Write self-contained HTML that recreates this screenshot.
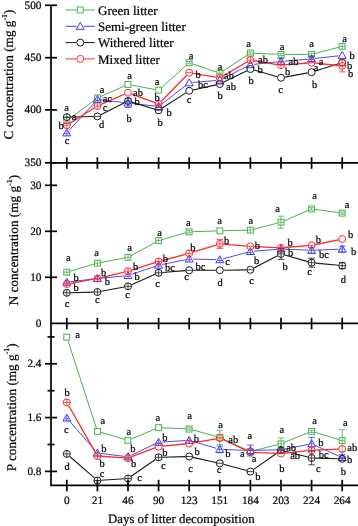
<!DOCTYPE html>
<html><head><meta charset="utf-8"><style>
html,body{margin:0;padding:0;background:#fff;width:358px;height:526px;overflow:hidden}
svg{display:block;will-change:transform}
text{font-family:"Liberation Serif",serif;fill:#000;stroke:#000;stroke-width:0.22px;text-rendering:geometricPrecision}
</style></head><body>
<svg width="358" height="526" viewBox="0 0 358 526">
<g stroke="#000" stroke-width="1.7" fill="none"><path d="M51.0 5.3V485.3M50.15 162.8H358M50.15 323.3H358M50.15 485.3H358"/><path d="M45 5.3H57"/><path d="M45 57.7H57"/><path d="M45 109.9H57"/><path d="M45 162.8H57"/><path d="M45 185.3H57"/><path d="M45 231.3H57"/><path d="M45 277.3H57"/><path d="M45 363.8H57"/><path d="M45 417.6H57"/><path d="M45 471.4H57"/><path d="M47.5 336.9H54.5"/><path d="M47.5 390.7H54.5"/><path d="M47.5 444.5H54.5"/><path d="M66.8 157.3V168.8"/><path d="M97.4 157.3V168.8"/><path d="M128.0 157.3V168.8"/><path d="M158.6 157.3V168.8"/><path d="M189.2 157.3V168.8"/><path d="M219.8 157.3V168.8"/><path d="M250.4 157.3V168.8"/><path d="M281.0 157.3V168.8"/><path d="M311.6 157.3V168.8"/><path d="M342.2 157.3V168.8"/><path d="M66.8 317.8V329.3"/><path d="M97.4 317.8V329.3"/><path d="M128.0 317.8V329.3"/><path d="M158.6 317.8V329.3"/><path d="M189.2 317.8V329.3"/><path d="M219.8 317.8V329.3"/><path d="M250.4 317.8V329.3"/><path d="M281.0 317.8V329.3"/><path d="M311.6 317.8V329.3"/><path d="M342.2 317.8V329.3"/><path d="M66.8 479.8V491.3"/><path d="M97.4 479.8V491.3"/><path d="M128.0 479.8V491.3"/><path d="M158.6 479.8V491.3"/><path d="M189.2 479.8V491.3"/><path d="M219.8 479.8V491.3"/><path d="M250.4 479.8V491.3"/><path d="M281.0 479.8V491.3"/><path d="M311.6 479.8V491.3"/><path d="M342.2 479.8V491.3"/></g>
<path d="M69.53 118.58L94.67 100.02M100.51 96.62L124.89 85.78M131.34 85.03L155.26 89.57M161.13 87.93L186.67 64.97M192.42 63.80L216.58 72.10M222.64 71.33L247.56 54.97M253.80 53.24L277.60 54.26M284.40 54.40L308.20 54.40M314.89 53.54L338.91 47.26" fill="none" stroke="#4caf50" stroke-width="1.0"/>
<path d="M69.23 130.24L94.97 102.06M100.98 99.82L124.42 102.58M131.58 103.41L155.02 106.09M161.45 104.30L186.35 85.00M192.79 82.50L216.21 80.50M223.01 78.57L247.19 66.33M253.98 64.31L277.42 61.79M284.59 61.11L308.01 59.19M315.18 58.49L338.62 55.81" fill="none" stroke="#3a3ad8" stroke-width="0.9"/>
<path d="M70.70 117.01L93.50 116.49M100.88 114.65L124.52 102.75M131.73 102.13L154.87 109.17M161.89 108.20L185.91 92.90M193.01 89.95L215.99 84.85M223.30 82.28L246.90 70.72M254.15 70.08L277.25 76.72M284.84 77.10L307.76 72.90M315.32 71.03L338.48 63.77" fill="none" stroke="#1a1a1a" stroke-width="1.1"/>
<path d="M70.10 123.13L94.10 108.07M100.98 104.45L124.42 94.25M131.66 94.05L154.94 102.65M161.33 101.21L186.47 75.49M193.05 73.33L215.95 77.07M223.18 75.76L247.02 62.04M254.25 60.74L277.15 64.56M284.89 64.88L307.71 63.02M315.48 63.11L338.32 65.49" fill="none" stroke="#ff2a2a" stroke-width="1.3"/>
<rect x="63.8" y="117.6" width="5.9" height="5.9" fill="none" stroke="#4caf50" stroke-width="1.0"/>
<rect x="94.5" y="95.0" width="5.9" height="5.9" fill="none" stroke="#4caf50" stroke-width="1.0"/>
<rect x="125.0" y="81.5" width="5.9" height="5.9" fill="none" stroke="#4caf50" stroke-width="1.0"/>
<rect x="155.7" y="87.2" width="5.9" height="5.9" fill="none" stroke="#4caf50" stroke-width="1.0"/>
<rect x="186.2" y="59.8" width="5.9" height="5.9" fill="none" stroke="#4caf50" stroke-width="1.0"/><path d="M186.2 61.6H192.1M186.2 63.8H192.1M189.2 61.6V63.8" stroke="#4caf50" stroke-width="0.8" fill="none"/>
<rect x="216.9" y="70.2" width="5.9" height="5.9" fill="none" stroke="#4caf50" stroke-width="1.0"/><path d="M219.8 70.2V76.2M216.9 73.2H222.8" stroke="#4caf50" stroke-width="0.8" fill="none"/>
<rect x="247.5" y="50.1" width="5.9" height="5.9" fill="none" stroke="#4caf50" stroke-width="1.0"/><path d="M247.5 52.0H253.3M247.5 54.2H253.3M250.4 52.0V54.2" stroke="#4caf50" stroke-width="0.8" fill="none"/>
<rect x="278.1" y="51.4" width="5.9" height="5.9" fill="none" stroke="#4caf50" stroke-width="1.0"/><path d="M278.1 53.3H283.9M278.1 55.5H283.9M281.0 53.3V55.5" stroke="#4caf50" stroke-width="0.8" fill="none"/>
<rect x="308.7" y="51.4" width="5.9" height="5.9" fill="none" stroke="#4caf50" stroke-width="1.0"/><path d="M308.7 53.3H314.6M308.7 55.5H314.6M311.6 53.3V55.5" stroke="#4caf50" stroke-width="0.8" fill="none"/>
<rect x="339.2" y="43.4" width="5.9" height="5.9" fill="none" stroke="#4caf50" stroke-width="1.0"/><path d="M342.2 43.4V49.4M339.2 46.4H345.1" stroke="#4caf50" stroke-width="0.8" fill="none"/>
<path d="M66.8 128.9L70.8 135.9L62.8 135.9Z" fill="none" stroke="#3b3bf5" stroke-width="1.0"/><path d="M66.8 130.4V135.9M64.6 133.7H69.0" stroke="#3b3bf5" stroke-width="0.8" fill="none"/>
<path d="M97.4 95.4L101.4 102.4L93.4 102.4Z" fill="none" stroke="#3b3bf5" stroke-width="1.0"/><path d="M97.4 96.9V102.4M95.2 100.2H99.6" stroke="#3b3bf5" stroke-width="0.8" fill="none"/>
<path d="M128.0 99.0L132.0 106.0L124.0 106.0Z" fill="none" stroke="#3b3bf5" stroke-width="1.0"/><path d="M128.0 98.5V107.5M124.7 98.5H131.3M124.7 107.5H131.3M125.8 103.0H130.2" stroke="#3b3bf5" stroke-width="0.8" fill="none"/>
<path d="M158.6 102.5L162.6 109.5L154.6 109.5Z" fill="none" stroke="#3b3bf5" stroke-width="1.0"/><path d="M156.4 105.4H160.8M156.4 107.6H160.8M158.6 105.4V107.6" stroke="#3b3bf5" stroke-width="0.8" fill="none"/>
<path d="M189.2 78.8L193.2 85.8L185.2 85.8Z" fill="none" stroke="#3b3bf5" stroke-width="1.0"/>
<path d="M219.8 76.2L223.8 83.2L215.8 83.2Z" fill="none" stroke="#3b3bf5" stroke-width="1.0"/><path d="M217.6 81.0H222.0" stroke="#3b3bf5" stroke-width="0.8" fill="none"/>
<path d="M250.4 60.7L254.4 67.7L246.4 67.7Z" fill="none" stroke="#3b3bf5" stroke-width="1.0"/>
<path d="M281.0 57.4L285.0 64.4L277.0 64.4Z" fill="none" stroke="#3b3bf5" stroke-width="1.0"/><path d="M281.0 58.4V64.4M277.7 58.4H284.3M277.7 64.4H284.3M278.8 61.4H283.2" stroke="#3b3bf5" stroke-width="0.8" fill="none"/>
<path d="M311.6 54.9L315.6 61.9L307.6 61.9Z" fill="none" stroke="#3b3bf5" stroke-width="1.0"/><path d="M311.6 56.4V61.4M308.3 56.4H314.9M308.3 61.4H314.9M309.4 58.9H313.8" stroke="#3b3bf5" stroke-width="0.8" fill="none"/>
<path d="M342.2 51.4L346.2 58.4L338.2 58.4Z" fill="none" stroke="#3b3bf5" stroke-width="1.0"/>
<circle cx="66.8" cy="117.1" r="3.5" fill="none" stroke="#1a1a1a" stroke-width="1.0"/><path d="M66.8 113.6V120.6M63.3 117.1H70.3" stroke="#1a1a1a" stroke-width="0.8" fill="none"/>
<circle cx="97.4" cy="116.4" r="3.5" fill="none" stroke="#1a1a1a" stroke-width="1.0"/><path d="M93.9 116.4H100.9" stroke="#1a1a1a" stroke-width="0.8" fill="none"/>
<circle cx="128.0" cy="101.0" r="3.5" fill="none" stroke="#1a1a1a" stroke-width="1.0"/><path d="M124.5 101.0H131.5" stroke="#1a1a1a" stroke-width="0.8" fill="none"/>
<circle cx="158.6" cy="110.3" r="3.5" fill="none" stroke="#1a1a1a" stroke-width="1.0"/><path d="M155.1 110.3H162.1" stroke="#1a1a1a" stroke-width="0.8" fill="none"/>
<circle cx="189.2" cy="90.8" r="3.5" fill="none" stroke="#1a1a1a" stroke-width="1.0"/>
<circle cx="219.8" cy="84.0" r="3.5" fill="none" stroke="#1a1a1a" stroke-width="1.0"/><path d="M216.3 84.0H223.3" stroke="#1a1a1a" stroke-width="0.8" fill="none"/>
<circle cx="250.4" cy="69.0" r="3.5" fill="none" stroke="#1a1a1a" stroke-width="1.0"/>
<circle cx="281.0" cy="77.8" r="3.5" fill="none" stroke="#1a1a1a" stroke-width="1.0"/>
<circle cx="311.6" cy="72.2" r="3.5" fill="none" stroke="#1a1a1a" stroke-width="1.0"/>
<circle cx="342.2" cy="62.6" r="3.5" fill="none" stroke="#1a1a1a" stroke-width="1.0"/>
<circle cx="66.8" cy="125.2" r="3.5" fill="none" stroke="#ff2a2a" stroke-width="1.0"/><path d="M66.8 121.7V128.7M63.3 125.2H70.3" stroke="#ff2a2a" stroke-width="0.8" fill="none"/>
<circle cx="97.4" cy="106.0" r="3.5" fill="none" stroke="#ff2a2a" stroke-width="1.0"/><path d="M97.4 102.5V109.5M93.9 106.0H100.9" stroke="#ff2a2a" stroke-width="0.8" fill="none"/>
<circle cx="128.0" cy="92.7" r="3.5" fill="none" stroke="#ff2a2a" stroke-width="1.0"/>
<circle cx="158.6" cy="104.0" r="3.5" fill="none" stroke="#ff2a2a" stroke-width="1.0"/><path d="M158.6 100.5V107.5M155.1 104.0H162.1" stroke="#ff2a2a" stroke-width="0.8" fill="none"/>
<circle cx="189.2" cy="72.7" r="3.5" fill="none" stroke="#ff2a2a" stroke-width="1.0"/><path d="M185.7 72.7H192.7" stroke="#ff2a2a" stroke-width="0.8" fill="none"/>
<circle cx="219.8" cy="77.7" r="3.5" fill="none" stroke="#ff2a2a" stroke-width="1.0"/><path d="M216.3 77.7H223.3" stroke="#ff2a2a" stroke-width="0.8" fill="none"/>
<circle cx="250.4" cy="60.1" r="3.5" fill="none" stroke="#ff2a2a" stroke-width="1.0"/><path d="M250.4 56.6V63.6M246.9 60.1H253.9" stroke="#ff2a2a" stroke-width="0.8" fill="none"/>
<circle cx="281.0" cy="65.2" r="3.5" fill="none" stroke="#ff2a2a" stroke-width="1.0"/><path d="M281.0 61.7V68.7M277.5 65.2H284.5" stroke="#ff2a2a" stroke-width="0.8" fill="none"/>
<circle cx="311.6" cy="62.7" r="3.5" fill="none" stroke="#ff2a2a" stroke-width="1.0"/><path d="M308.1 62.7H315.1" stroke="#ff2a2a" stroke-width="0.8" fill="none"/>
<circle cx="342.2" cy="65.9" r="3.5" fill="none" stroke="#ff2a2a" stroke-width="1.0"/><path d="M342.2 59.9V71.9M338.9 59.9H345.5M338.9 71.9H345.5M338.7 65.9H345.7" stroke="#ff2a2a" stroke-width="0.8" fill="none"/>
<path d="M70.06 271.23L94.14 264.07M100.74 262.48L124.66 258.02M130.98 255.76L155.62 242.24M161.87 239.66L185.93 232.74M192.60 231.69L216.40 230.91M223.20 230.72L247.00 230.18M253.69 229.25L277.71 223.05M284.12 220.84L308.48 210.26M314.97 209.36L338.83 212.64" fill="none" stroke="#4caf50" stroke-width="1.0"/>
<path d="M70.37 281.77L93.83 278.93M100.98 278.16L124.42 275.94M131.41 274.44L155.19 266.36M162.13 264.49L185.67 259.71M192.80 259.08L216.20 259.62M223.28 258.77L246.92 252.43M253.99 251.21L277.41 249.29M284.60 249.15L308.00 250.15M315.20 250.16L338.60 249.24" fill="none" stroke="#3a3ad8" stroke-width="0.9"/>
<path d="M70.70 292.70L93.50 292.10M101.23 291.29L124.17 287.01M131.57 284.73L155.03 274.37M162.49 272.48L185.31 270.62M193.10 270.30L215.90 270.30M223.70 270.24L246.50 269.86M253.86 268.00L277.54 255.70M284.75 254.98L307.85 261.62M315.48 263.08L338.32 265.32" fill="none" stroke="#1a1a1a" stroke-width="1.1"/>
<path d="M70.64 283.31L93.56 279.19M101.19 277.60L124.21 272.10M131.72 270.02L154.88 262.68M162.37 260.50L185.43 254.40M192.92 252.24L216.08 245.06M223.69 244.22L246.51 246.08M254.30 246.58L277.10 247.62M284.89 247.48L307.71 245.62M315.42 244.51L338.38 239.79" fill="none" stroke="#ff2a2a" stroke-width="1.3"/>
<rect x="63.8" y="269.2" width="5.9" height="5.9" fill="none" stroke="#4caf50" stroke-width="1.0"/><path d="M66.8 269.2V275.1M63.8 272.2H69.8" stroke="#4caf50" stroke-width="0.8" fill="none"/>
<rect x="94.5" y="260.2" width="5.9" height="5.9" fill="none" stroke="#4caf50" stroke-width="1.0"/><path d="M97.4 260.2V266.1M94.5 263.1H100.4" stroke="#4caf50" stroke-width="0.8" fill="none"/>
<rect x="125.0" y="254.4" width="5.9" height="5.9" fill="none" stroke="#4caf50" stroke-width="1.0"/><path d="M128.0 254.4V260.3M125.0 257.4H130.9" stroke="#4caf50" stroke-width="0.8" fill="none"/>
<rect x="155.7" y="237.7" width="5.9" height="5.9" fill="none" stroke="#4caf50" stroke-width="1.0"/><path d="M158.6 237.7V243.5M155.7 240.6H161.5" stroke="#4caf50" stroke-width="0.8" fill="none"/>
<rect x="186.2" y="228.9" width="5.9" height="5.9" fill="none" stroke="#4caf50" stroke-width="1.0"/><path d="M186.2 230.7H192.1M186.2 232.9H192.1M189.2 230.7V232.9" stroke="#4caf50" stroke-width="0.8" fill="none"/>
<rect x="216.9" y="227.9" width="5.9" height="5.9" fill="none" stroke="#4caf50" stroke-width="1.0"/>
<rect x="247.5" y="227.2" width="5.9" height="5.9" fill="none" stroke="#4caf50" stroke-width="1.0"/><path d="M250.4 227.2V233.0M247.5 230.1H253.3" stroke="#4caf50" stroke-width="0.8" fill="none"/>
<rect x="278.1" y="219.2" width="5.9" height="5.9" fill="none" stroke="#4caf50" stroke-width="1.0"/><path d="M281.0 216.2V228.2M277.7 216.2H284.3M277.7 228.2H284.3M278.1 222.2H283.9" stroke="#4caf50" stroke-width="0.8" fill="none"/>
<rect x="308.7" y="206.0" width="5.9" height="5.9" fill="none" stroke="#4caf50" stroke-width="1.0"/><path d="M308.7 207.8H314.6M308.7 210.0H314.6M311.6 207.8V210.0" stroke="#4caf50" stroke-width="0.8" fill="none"/>
<rect x="339.2" y="210.2" width="5.9" height="5.9" fill="none" stroke="#4caf50" stroke-width="1.0"/><path d="M339.2 212.0H345.1M339.2 214.2H345.1M342.2 212.0V214.2" stroke="#4caf50" stroke-width="0.8" fill="none"/>
<path d="M66.8 278.2L70.8 285.2L62.8 285.2Z" fill="none" stroke="#3b3bf5" stroke-width="1.0"/><path d="M66.8 279.7V285.2M64.6 283.0H69.0" stroke="#3b3bf5" stroke-width="0.8" fill="none"/>
<path d="M97.4 274.5L101.4 281.5L93.4 281.5Z" fill="none" stroke="#3b3bf5" stroke-width="1.0"/><path d="M97.4 276.0V281.5M95.2 279.3H99.6" stroke="#3b3bf5" stroke-width="0.8" fill="none"/>
<path d="M128.0 271.6L132.0 278.6L124.0 278.6Z" fill="none" stroke="#3b3bf5" stroke-width="1.0"/><path d="M128.0 273.1V278.6M125.8 276.4H130.2" stroke="#3b3bf5" stroke-width="0.8" fill="none"/>
<path d="M158.6 261.2L162.6 268.2L154.6 268.2Z" fill="none" stroke="#3b3bf5" stroke-width="1.0"/><path d="M158.6 262.7V268.2M156.4 266.0H160.8" stroke="#3b3bf5" stroke-width="0.8" fill="none"/>
<path d="M189.2 255.0L193.2 262.0L185.2 262.0Z" fill="none" stroke="#3b3bf5" stroke-width="1.0"/><path d="M189.2 256.5V262.0M187.0 259.8H191.4" stroke="#3b3bf5" stroke-width="0.8" fill="none"/>
<path d="M219.8 255.7L223.8 262.7L215.8 262.7Z" fill="none" stroke="#3b3bf5" stroke-width="1.0"/><path d="M219.8 257.2V262.7M217.6 260.5H222.0" stroke="#3b3bf5" stroke-width="0.8" fill="none"/>
<path d="M250.4 247.5L254.4 254.5L246.4 254.5Z" fill="none" stroke="#3b3bf5" stroke-width="1.0"/><path d="M250.4 249.0V254.5M248.2 252.3H252.6" stroke="#3b3bf5" stroke-width="0.8" fill="none"/>
<path d="M281.0 245.0L285.0 252.0L277.0 252.0Z" fill="none" stroke="#3b3bf5" stroke-width="1.0"/><path d="M281.0 246.5V252.0M278.8 249.8H283.2" stroke="#3b3bf5" stroke-width="0.8" fill="none"/>
<path d="M311.6 246.3L315.6 253.3L307.6 253.3Z" fill="none" stroke="#3b3bf5" stroke-width="1.0"/><path d="M311.6 247.3V253.3M308.3 247.3H314.9M308.3 253.3H314.9M309.4 250.3H313.8" stroke="#3b3bf5" stroke-width="0.8" fill="none"/>
<path d="M342.2 245.1L346.2 252.1L338.2 252.1Z" fill="none" stroke="#3b3bf5" stroke-width="1.0"/><path d="M342.2 246.1V252.1M338.9 246.1H345.5M338.9 252.1H345.5M340.0 249.1H344.4" stroke="#3b3bf5" stroke-width="0.8" fill="none"/>
<circle cx="66.8" cy="292.8" r="3.5" fill="none" stroke="#1a1a1a" stroke-width="1.0"/><path d="M66.8 289.3V296.3M63.3 292.8H70.3" stroke="#1a1a1a" stroke-width="0.8" fill="none"/>
<circle cx="97.4" cy="292.0" r="3.5" fill="none" stroke="#1a1a1a" stroke-width="1.0"/><path d="M97.4 288.5V295.5M93.9 292.0H100.9" stroke="#1a1a1a" stroke-width="0.8" fill="none"/>
<circle cx="128.0" cy="286.3" r="3.5" fill="none" stroke="#1a1a1a" stroke-width="1.0"/><path d="M128.0 282.8V289.8M124.5 286.3H131.5" stroke="#1a1a1a" stroke-width="0.8" fill="none"/>
<circle cx="158.6" cy="272.8" r="3.5" fill="none" stroke="#1a1a1a" stroke-width="1.0"/><path d="M158.6 269.3V276.3M155.1 272.8H162.1" stroke="#1a1a1a" stroke-width="0.8" fill="none"/>
<circle cx="189.2" cy="270.3" r="3.5" fill="none" stroke="#1a1a1a" stroke-width="1.0"/><path d="M185.7 270.3H192.7" stroke="#1a1a1a" stroke-width="0.8" fill="none"/>
<circle cx="219.8" cy="270.3" r="3.5" fill="none" stroke="#1a1a1a" stroke-width="1.0"/>
<circle cx="250.4" cy="269.8" r="3.5" fill="none" stroke="#1a1a1a" stroke-width="1.0"/><path d="M246.9 269.8H253.9" stroke="#1a1a1a" stroke-width="0.8" fill="none"/>
<circle cx="281.0" cy="253.9" r="3.5" fill="none" stroke="#1a1a1a" stroke-width="1.0"/><path d="M281.0 248.4V259.4M277.7 248.4H284.3M277.7 259.4H284.3M277.5 253.9H284.5" stroke="#1a1a1a" stroke-width="0.8" fill="none"/>
<circle cx="311.6" cy="262.7" r="3.5" fill="none" stroke="#1a1a1a" stroke-width="1.0"/><path d="M311.6 258.2V267.2M308.3 258.2H314.9M308.3 267.2H314.9M308.1 262.7H315.1" stroke="#1a1a1a" stroke-width="0.8" fill="none"/>
<circle cx="342.2" cy="265.7" r="3.5" fill="none" stroke="#1a1a1a" stroke-width="1.0"/><path d="M342.2 262.7V268.7M338.9 262.7H345.5M338.9 268.7H345.5M338.7 265.7H345.7" stroke="#1a1a1a" stroke-width="0.8" fill="none"/>
<circle cx="66.8" cy="284.0" r="3.5" fill="none" stroke="#ff2a2a" stroke-width="1.0"/><path d="M66.8 280.5V287.5M63.3 284.0H70.3" stroke="#ff2a2a" stroke-width="0.8" fill="none"/>
<circle cx="97.4" cy="278.5" r="3.5" fill="none" stroke="#ff2a2a" stroke-width="1.0"/><path d="M97.4 275.0V282.0M93.9 278.5H100.9" stroke="#ff2a2a" stroke-width="0.8" fill="none"/>
<circle cx="128.0" cy="271.2" r="3.5" fill="none" stroke="#ff2a2a" stroke-width="1.0"/><path d="M128.0 267.7V274.7M124.5 271.2H131.5" stroke="#ff2a2a" stroke-width="0.8" fill="none"/>
<circle cx="158.6" cy="261.5" r="3.5" fill="none" stroke="#ff2a2a" stroke-width="1.0"/><path d="M158.6 258.0V265.0M155.1 261.5H162.1" stroke="#ff2a2a" stroke-width="0.8" fill="none"/>
<circle cx="189.2" cy="253.4" r="3.5" fill="none" stroke="#ff2a2a" stroke-width="1.0"/><path d="M189.2 249.9V256.9M185.7 253.4H192.7" stroke="#ff2a2a" stroke-width="0.8" fill="none"/>
<circle cx="219.8" cy="243.9" r="3.5" fill="none" stroke="#ff2a2a" stroke-width="1.0"/><path d="M219.8 239.4V248.4M216.5 239.4H223.1M216.5 248.4H223.1M216.3 243.9H223.3" stroke="#ff2a2a" stroke-width="0.8" fill="none"/>
<circle cx="250.4" cy="246.4" r="3.5" fill="none" stroke="#ff2a2a" stroke-width="1.0"/><path d="M246.9 246.4H253.9" stroke="#ff2a2a" stroke-width="0.8" fill="none"/>
<circle cx="281.0" cy="247.8" r="3.5" fill="none" stroke="#ff2a2a" stroke-width="1.0"/><path d="M281.0 244.3V251.3M277.5 247.8H284.5" stroke="#ff2a2a" stroke-width="0.8" fill="none"/>
<circle cx="311.6" cy="245.3" r="3.5" fill="none" stroke="#ff2a2a" stroke-width="1.0"/><path d="M308.1 245.3H315.1" stroke="#ff2a2a" stroke-width="0.8" fill="none"/>
<circle cx="342.2" cy="239.0" r="3.5" fill="none" stroke="#ff2a2a" stroke-width="1.0"/>
<path d="M67.85 340.33L96.35 428.07M100.66 432.26L124.74 439.34M131.14 439.00L155.46 428.90M162.00 427.76L185.80 428.84M192.48 429.89L216.52 436.41M222.88 438.73L247.32 450.07M253.70 450.67L277.70 444.63M284.15 442.51L308.45 432.59M314.85 432.29L338.95 439.61" fill="none" stroke="#4caf50" stroke-width="1.0"/>
<path d="M69.17 420.71L95.03 450.29M100.97 453.44L124.43 456.36M131.25 455.26L155.35 443.84M162.19 442.07L185.61 440.53M192.65 441.33L216.35 448.37M223.40 449.53L246.80 450.37M254.00 450.42L277.40 449.88M284.53 449.11L308.07 444.49M314.88 445.28L338.92 456.12" fill="none" stroke="#3a3ad8" stroke-width="0.9"/>
<path d="M69.74 456.46L94.46 477.94M101.29 480.25L124.11 478.75M131.21 476.28L155.39 459.52M162.50 457.20L185.30 456.60M193.01 457.35L215.99 462.45M223.56 464.32L246.64 470.58M253.60 469.37L277.80 452.53M284.78 451.25L307.82 457.05M315.50 458.10L338.30 458.70" fill="none" stroke="#1a1a1a" stroke-width="1.1"/>
<path d="M68.73 405.79L95.47 452.61M101.29 456.27L124.11 457.83M131.65 456.73L154.95 447.97M162.48 446.22L185.32 443.98M193.04 442.91L215.96 438.79M223.34 439.73L246.86 450.57M254.30 452.38L277.10 453.42M284.88 453.18L307.72 450.72M315.50 450.13L338.30 449.17" fill="none" stroke="#ff2a2a" stroke-width="1.3"/>
<rect x="63.8" y="334.2" width="5.9" height="5.9" fill="none" stroke="#4caf50" stroke-width="1.0"/>
<rect x="94.5" y="428.4" width="5.9" height="5.9" fill="none" stroke="#4caf50" stroke-width="1.0"/>
<rect x="125.0" y="437.4" width="5.9" height="5.9" fill="none" stroke="#4caf50" stroke-width="1.0"/>
<rect x="155.7" y="424.7" width="5.9" height="5.9" fill="none" stroke="#4caf50" stroke-width="1.0"/>
<rect x="186.2" y="426.1" width="5.9" height="5.9" fill="none" stroke="#4caf50" stroke-width="1.0"/><path d="M186.2 427.9H192.1M186.2 430.1H192.1M189.2 427.9V430.1" stroke="#4caf50" stroke-width="0.8" fill="none"/>
<rect x="216.9" y="434.4" width="5.9" height="5.9" fill="none" stroke="#4caf50" stroke-width="1.0"/><path d="M219.8 430.3V444.3M216.5 430.3H223.1M216.5 444.3H223.1M216.9 437.3H222.8" stroke="#4caf50" stroke-width="0.8" fill="none"/>
<rect x="247.5" y="448.6" width="5.9" height="5.9" fill="none" stroke="#4caf50" stroke-width="1.0"/>
<rect x="278.1" y="440.9" width="5.9" height="5.9" fill="none" stroke="#4caf50" stroke-width="1.0"/><path d="M281.0 438.0V449.6M277.7 438.0H284.3M277.7 449.6H284.3M278.1 443.8H283.9" stroke="#4caf50" stroke-width="0.8" fill="none"/>
<rect x="308.7" y="428.4" width="5.9" height="5.9" fill="none" stroke="#4caf50" stroke-width="1.0"/><path d="M308.7 430.2H314.6M308.7 432.4H314.6M311.6 430.2V432.4" stroke="#4caf50" stroke-width="0.8" fill="none"/>
<rect x="339.2" y="437.7" width="5.9" height="5.9" fill="none" stroke="#4caf50" stroke-width="1.0"/><path d="M342.2 429.6V451.6M338.9 429.6H345.5M338.9 451.6H345.5M339.2 440.6H345.1" stroke="#4caf50" stroke-width="0.8" fill="none"/>
<path d="M66.8 414.0L70.8 421.0L62.8 421.0Z" fill="none" stroke="#3b3bf5" stroke-width="1.0"/><path d="M66.8 415.5V421.0M64.6 418.8H69.0" stroke="#3b3bf5" stroke-width="0.8" fill="none"/>
<path d="M97.4 449.0L101.4 456.0L93.4 456.0Z" fill="none" stroke="#3b3bf5" stroke-width="1.0"/><path d="M97.4 450.5V456.0M95.2 453.8H99.6" stroke="#3b3bf5" stroke-width="0.8" fill="none"/>
<path d="M128.0 452.8L132.0 459.8L124.0 459.8Z" fill="none" stroke="#3b3bf5" stroke-width="1.0"/><path d="M128.0 454.3V459.8M125.8 457.6H130.2" stroke="#3b3bf5" stroke-width="0.8" fill="none"/>
<path d="M158.6 438.3L162.6 445.3L154.6 445.3Z" fill="none" stroke="#3b3bf5" stroke-width="1.0"/><path d="M158.6 439.8V445.3M156.4 443.1H160.8" stroke="#3b3bf5" stroke-width="0.8" fill="none"/>
<path d="M189.2 436.3L193.2 443.3L185.2 443.3Z" fill="none" stroke="#3b3bf5" stroke-width="1.0"/><path d="M189.2 437.8V443.3M187.0 441.1H191.4" stroke="#3b3bf5" stroke-width="0.8" fill="none"/>
<path d="M219.8 445.4L223.8 452.4L215.8 452.4Z" fill="none" stroke="#3b3bf5" stroke-width="1.0"/><path d="M219.8 446.1V452.7M216.5 446.1H223.1M216.5 452.7H223.1M217.6 449.4H222.0" stroke="#3b3bf5" stroke-width="0.8" fill="none"/>
<path d="M250.4 446.5L254.4 453.5L246.4 453.5Z" fill="none" stroke="#3b3bf5" stroke-width="1.0"/><path d="M250.4 445.0V456.0M247.1 445.0H253.7M247.1 456.0H253.7M248.2 450.5H252.6" stroke="#3b3bf5" stroke-width="0.8" fill="none"/>
<path d="M281.0 445.8L285.0 452.8L277.0 452.8Z" fill="none" stroke="#3b3bf5" stroke-width="1.0"/><path d="M281.0 447.3V452.8M278.8 450.6H283.2" stroke="#3b3bf5" stroke-width="0.8" fill="none"/>
<path d="M311.6 439.8L315.6 446.8L307.6 446.8Z" fill="none" stroke="#3b3bf5" stroke-width="1.0"/><path d="M311.6 437.3V450.3M308.3 437.3H314.9M308.3 450.3H314.9M309.4 443.8H313.8" stroke="#3b3bf5" stroke-width="0.8" fill="none"/>
<path d="M342.2 453.6L346.2 460.6L338.2 460.6Z" fill="none" stroke="#3b3bf5" stroke-width="1.0"/><path d="M342.2 454.6V460.6M338.9 454.6H345.5M338.9 460.6H345.5M340.0 457.6H344.4" stroke="#3b3bf5" stroke-width="0.8" fill="none"/>
<circle cx="66.8" cy="453.9" r="3.5" fill="none" stroke="#1a1a1a" stroke-width="1.0"/><path d="M66.8 450.4V457.4M63.3 453.9H70.3" stroke="#1a1a1a" stroke-width="0.8" fill="none"/>
<circle cx="97.4" cy="480.5" r="3.5" fill="none" stroke="#1a1a1a" stroke-width="1.0"/><path d="M97.4 477.0V484.0M93.9 480.5H100.9" stroke="#1a1a1a" stroke-width="0.8" fill="none"/>
<circle cx="128.0" cy="478.5" r="3.5" fill="none" stroke="#1a1a1a" stroke-width="1.0"/><path d="M128.0 475.0V482.0M124.5 478.5H131.5" stroke="#1a1a1a" stroke-width="0.8" fill="none"/>
<circle cx="158.6" cy="457.3" r="3.5" fill="none" stroke="#1a1a1a" stroke-width="1.0"/><path d="M158.6 453.8V460.8M155.1 457.3H162.1" stroke="#1a1a1a" stroke-width="0.8" fill="none"/>
<circle cx="189.2" cy="456.5" r="3.5" fill="none" stroke="#1a1a1a" stroke-width="1.0"/><path d="M185.7 456.5H192.7" stroke="#1a1a1a" stroke-width="0.8" fill="none"/>
<circle cx="219.8" cy="463.3" r="3.5" fill="none" stroke="#1a1a1a" stroke-width="1.0"/><path d="M216.3 463.3H223.3" stroke="#1a1a1a" stroke-width="0.8" fill="none"/>
<circle cx="250.4" cy="471.6" r="3.5" fill="none" stroke="#1a1a1a" stroke-width="1.0"/><path d="M246.9 471.6H253.9" stroke="#1a1a1a" stroke-width="0.8" fill="none"/>
<circle cx="281.0" cy="450.3" r="3.5" fill="none" stroke="#1a1a1a" stroke-width="1.0"/><path d="M281.0 446.8V453.8M277.5 450.3H284.5" stroke="#1a1a1a" stroke-width="0.8" fill="none"/>
<circle cx="311.6" cy="458.0" r="3.5" fill="none" stroke="#1a1a1a" stroke-width="1.0"/><path d="M311.6 451.2V464.8M308.3 451.2H314.9M308.3 464.8H314.9M308.1 458.0H315.1" stroke="#1a1a1a" stroke-width="0.8" fill="none"/>
<circle cx="342.2" cy="458.8" r="3.5" fill="none" stroke="#1a1a1a" stroke-width="1.0"/><path d="M338.7 458.8H345.7" stroke="#1a1a1a" stroke-width="0.8" fill="none"/>
<circle cx="66.8" cy="402.4" r="3.5" fill="none" stroke="#ff2a2a" stroke-width="1.0"/><path d="M66.8 398.9V405.9M63.3 402.4H70.3" stroke="#ff2a2a" stroke-width="0.8" fill="none"/>
<circle cx="97.4" cy="456.0" r="3.5" fill="none" stroke="#ff2a2a" stroke-width="1.0"/><path d="M97.4 452.5V459.5M93.9 456.0H100.9" stroke="#ff2a2a" stroke-width="0.8" fill="none"/>
<circle cx="128.0" cy="458.1" r="3.5" fill="none" stroke="#ff2a2a" stroke-width="1.0"/><path d="M128.0 454.6V461.6M124.5 458.1H131.5" stroke="#ff2a2a" stroke-width="0.8" fill="none"/>
<circle cx="158.6" cy="446.6" r="3.5" fill="none" stroke="#ff2a2a" stroke-width="1.0"/>
<circle cx="189.2" cy="443.6" r="3.5" fill="none" stroke="#ff2a2a" stroke-width="1.0"/><path d="M185.7 443.6H192.7" stroke="#ff2a2a" stroke-width="0.8" fill="none"/>
<circle cx="219.8" cy="438.1" r="3.5" fill="none" stroke="#ff2a2a" stroke-width="1.0"/><path d="M216.3 438.1H223.3" stroke="#ff2a2a" stroke-width="0.8" fill="none"/>
<circle cx="250.4" cy="452.2" r="3.5" fill="none" stroke="#ff2a2a" stroke-width="1.0"/>
<circle cx="281.0" cy="453.6" r="3.5" fill="none" stroke="#ff2a2a" stroke-width="1.0"/><path d="M277.5 453.6H284.5" stroke="#ff2a2a" stroke-width="0.8" fill="none"/>
<circle cx="311.6" cy="450.3" r="3.5" fill="none" stroke="#ff2a2a" stroke-width="1.0"/><path d="M311.6 446.8V453.8M308.1 450.3H315.1" stroke="#ff2a2a" stroke-width="0.8" fill="none"/>
<circle cx="342.2" cy="449.0" r="3.5" fill="none" stroke="#ff2a2a" stroke-width="1.0"/>
<text x="66.5" y="111.10000000000001" font-size="10.5" text-anchor="middle" >a</text><text x="74" y="120.4" font-size="10.5" text-anchor="middle" >a</text><text x="61" y="128.6" font-size="10.5" text-anchor="middle" >b</text><text x="67" y="144.4" font-size="10.5" text-anchor="middle" >c</text><text x="102" y="93.4" font-size="10.5" text-anchor="middle" >a</text><text x="107.5" y="102.0" font-size="10.5" text-anchor="middle" >ac</text><text x="105" y="110.60000000000001" font-size="10.5" text-anchor="middle" >c</text><text x="101.5" y="127.6" font-size="10.5" text-anchor="middle" >d</text><text x="129.5" y="78.7" font-size="10.5" text-anchor="middle" >a</text><text x="138" y="96.3" font-size="10.5" text-anchor="middle" >ab</text><text x="137" y="105.0" font-size="10.5" text-anchor="middle" >b</text><text x="129" y="121.89999999999999" font-size="10.5" text-anchor="middle" >b</text><text x="157" y="85.0" font-size="10.5" text-anchor="middle" >a</text><text x="157" y="101.3" font-size="10.5" text-anchor="middle" >b</text><text x="169" y="116.39999999999999" font-size="10.5" text-anchor="middle" >b</text><text x="160" y="126.39999999999999" font-size="10.5" text-anchor="middle" >b</text><text x="191" y="59.4" font-size="10.5" text-anchor="middle" >a</text><text x="198" y="77.6" font-size="10.5" text-anchor="middle" >b</text><text x="203" y="87.6" font-size="10.5" text-anchor="middle" >bc</text><text x="189" y="103.30000000000001" font-size="10.5" text-anchor="middle" >c</text><text x="220" y="69.60000000000001" font-size="10.5" text-anchor="middle" >a</text><text x="229" y="78.8" font-size="10.5" text-anchor="middle" >ab</text><text x="231" y="90.1" font-size="10.5" text-anchor="middle" >ab</text><text x="220" y="98.89999999999999" font-size="10.5" text-anchor="middle" >b</text><text x="248.5" y="47.4" font-size="10.5" text-anchor="middle" >a</text><text x="263" y="63.2" font-size="10.5" text-anchor="middle" >ab</text><text x="260" y="72.6" font-size="10.5" text-anchor="middle" >b</text><text x="251" y="83.8" font-size="10.5" text-anchor="middle" >b</text><text x="282" y="49.5" font-size="10.5" text-anchor="middle" >a</text><text x="293.5" y="65.0" font-size="10.5" text-anchor="middle" >ab</text><text x="287.5" y="75.1" font-size="10.5" text-anchor="middle" >b</text><text x="280.5" y="93.4" font-size="10.5" text-anchor="middle" >c</text><text x="311.5" y="47.4" font-size="10.5" text-anchor="middle" >a</text><text x="321" y="64.60000000000001" font-size="10.5" text-anchor="middle" >a</text><text x="316" y="70.60000000000001" font-size="10.5" text-anchor="middle" >a</text><text x="314.5" y="87.6" font-size="10.5" text-anchor="middle" >b</text><text x="344.5" y="42.199999999999996" font-size="10.5" text-anchor="middle" >a</text><text x="352.1" y="59.0" font-size="10.5" text-anchor="middle" >b</text><text x="349.7" y="68.6" font-size="10.5" text-anchor="middle" >b</text><text x="350.7" y="77.1" font-size="10.5" text-anchor="middle" >b</text><text x="68.3" y="261.29999999999995" font-size="10.5" text-anchor="middle" >a</text><text x="76" y="280.8" font-size="10.5" text-anchor="middle" >b</text><text x="76" y="291.40000000000003" font-size="10.5" text-anchor="middle" >b</text><text x="67" y="307.29999999999995" font-size="10.5" text-anchor="middle" >c</text><text x="96.7" y="256.2" font-size="10.5" text-anchor="middle" >a</text><text x="103.5" y="276.3" font-size="10.5" text-anchor="middle" >b</text><text x="107.3" y="285.1" font-size="10.5" text-anchor="middle" >b</text><text x="97.3" y="302.7" font-size="10.5" text-anchor="middle" >c</text><text x="129.5" y="250.6" font-size="10.5" text-anchor="middle" >a</text><text x="135.6" y="270.1" font-size="10.5" text-anchor="middle" >b</text><text x="137" y="280.20000000000005" font-size="10.5" text-anchor="middle" >b</text><text x="127.5" y="297.79999999999995" font-size="10.5" text-anchor="middle" >c</text><text x="159.7" y="236.20000000000002" font-size="10.5" text-anchor="middle" >a</text><text x="165.3" y="261.8" font-size="10.5" text-anchor="middle" >b</text><text x="170" y="271.40000000000003" font-size="10.5" text-anchor="middle" >bc</text><text x="157.7" y="286.5" font-size="10.5" text-anchor="middle" >c</text><text x="188.4" y="226.20000000000002" font-size="10.5" text-anchor="middle" >a</text><text x="192.9" y="251.29999999999998" font-size="10.5" text-anchor="middle" >b</text><text x="200.5" y="270.40000000000003" font-size="10.5" text-anchor="middle" >bc</text><text x="186.6" y="279.7" font-size="10.5" text-anchor="middle" >c</text><text x="219.7" y="224.4" font-size="10.5" text-anchor="middle" >a</text><text x="226.5" y="243.7" font-size="10.5" text-anchor="middle" >b</text><text x="227.7" y="265.2" font-size="10.5" text-anchor="middle" >c</text><text x="220.2" y="286.0" font-size="10.5" text-anchor="middle" >d</text><text x="250.8" y="223.70000000000002" font-size="10.5" text-anchor="middle" >a</text><text x="257.4" y="249.29999999999998" font-size="10.5" text-anchor="middle" >b</text><text x="256.6" y="264.40000000000003" font-size="10.5" text-anchor="middle" >b</text><text x="251.6" y="284.0" font-size="10.5" text-anchor="middle" >c</text><text x="277.6" y="212.0" font-size="10.5" text-anchor="middle" >a</text><text x="290.1" y="245.9" font-size="10.5" text-anchor="middle" >b</text><text x="290.6" y="256.40000000000003" font-size="10.5" text-anchor="middle" >b</text><text x="285.1" y="269.6" font-size="10.5" text-anchor="middle" >b</text><text x="314.5" y="199.4" font-size="10.5" text-anchor="middle" >a</text><text x="318.3" y="242.6" font-size="10.5" text-anchor="middle" >b</text><text x="324" y="257.7" font-size="10.5" text-anchor="middle" >bc</text><text x="309.5" y="275.09999999999997" font-size="10.5" text-anchor="middle" >c</text><text x="347.2" y="208.0" font-size="10.5" text-anchor="middle" >a</text><text x="350.5" y="238.29999999999998" font-size="10.5" text-anchor="middle" >b</text><text x="353.5" y="255.2" font-size="10.5" text-anchor="middle" >b</text><text x="343.4" y="283.3" font-size="10.5" text-anchor="middle" >d</text><text x="77.6" y="338.0" font-size="10.5" text-anchor="middle" >a</text><text x="67.1" y="396.1" font-size="10.5" text-anchor="middle" >b</text><text x="66.4" y="432.59999999999997" font-size="10.5" text-anchor="middle" >c</text><text x="67.1" y="470.3" font-size="10.5" text-anchor="middle" >d</text><text x="102.8" y="423.79999999999995" font-size="10.5" text-anchor="middle" >a</text><text x="103.8" y="452.0" font-size="10.5" text-anchor="middle" >b</text><text x="102.1" y="467.40000000000003" font-size="10.5" text-anchor="middle" >b</text><text x="102" y="477.29999999999995" font-size="10.5" text-anchor="middle" >c</text><text x="128.9" y="435.09999999999997" font-size="10.5" text-anchor="middle" >a</text><text x="132.8" y="452.0" font-size="10.5" text-anchor="middle" >b</text><text x="133.6" y="466.8" font-size="10.5" text-anchor="middle" >b</text><text x="139.7" y="480.79999999999995" font-size="10.5" text-anchor="middle" >c</text><text x="157.8" y="421.29999999999995" font-size="10.5" text-anchor="middle" >a</text><text x="164.8" y="441.3" font-size="10.5" text-anchor="middle" >b</text><text x="164.8" y="455.90000000000003" font-size="10.5" text-anchor="middle" >b</text><text x="163.3" y="469.0" font-size="10.5" text-anchor="middle" >c</text><text x="189.6" y="418.9" font-size="10.5" text-anchor="middle" >a</text><text x="196.4" y="441.8" font-size="10.5" text-anchor="middle" >b</text><text x="197.1" y="455.1" font-size="10.5" text-anchor="middle" >b</text><text x="190.6" y="471.5" font-size="10.5" text-anchor="middle" >c</text><text x="220.7" y="427.5" font-size="10.5" text-anchor="middle" >a</text><text x="233.3" y="442.6" font-size="10.5" text-anchor="middle" >ab</text><text x="227.8" y="456.90000000000003" font-size="10.5" text-anchor="middle" >b</text><text x="219" y="472.79999999999995" font-size="10.5" text-anchor="middle" >c</text><text x="249.9" y="438.9" font-size="10.5" text-anchor="middle" >a</text><text x="242.3" y="457.2" font-size="10.5" text-anchor="middle" >a</text><text x="254.2" y="462.2" font-size="10.5" text-anchor="middle" >a</text><text x="257.9" y="480.3" font-size="10.5" text-anchor="middle" >b</text><text x="281.8" y="432.59999999999997" font-size="10.5" text-anchor="middle" >a</text><text x="291.1" y="451.40000000000003" font-size="10.5" text-anchor="middle" >ab</text><text x="295.1" y="459.40000000000003" font-size="10.5" text-anchor="middle" >ab</text><text x="281.8" y="471.5" font-size="10.5" text-anchor="middle" >b</text><text x="314.5" y="423.79999999999995" font-size="10.5" text-anchor="middle" >a</text><text x="320.8" y="446.40000000000003" font-size="10.5" text-anchor="middle" >b</text><text x="323.8" y="458.40000000000003" font-size="10.5" text-anchor="middle" >bc</text><text x="318.3" y="472.29999999999995" font-size="10.5" text-anchor="middle" >c</text><text x="345.4" y="426.29999999999995" font-size="10.5" text-anchor="middle" >a</text><text x="352.2" y="451.40000000000003" font-size="10.5" text-anchor="middle" >ab</text><text x="349.7" y="462.70000000000005" font-size="10.5" text-anchor="middle" >b</text><text x="343.4" y="475.3" font-size="10.5" text-anchor="middle" >b</text>
<text x="41.5" y="8.5" font-size="11.3" text-anchor="end" >500</text><text x="41.5" y="60.900000000000006" font-size="11.3" text-anchor="end" >450</text><text x="41.5" y="113.10000000000001" font-size="11.3" text-anchor="end" >400</text><text x="41.5" y="166.0" font-size="11.3" text-anchor="end" >350</text><text x="41.5" y="188.5" font-size="11.3" text-anchor="end" >30</text><text x="41.5" y="234.5" font-size="11.3" text-anchor="end" >20</text><text x="41.5" y="280.5" font-size="11.3" text-anchor="end" >10</text><text x="41.5" y="326.5" font-size="11.3" text-anchor="end" >0</text><text x="41.5" y="367.0" font-size="11.3" text-anchor="end" >2.4</text><text x="41.5" y="420.8" font-size="11.3" text-anchor="end" >1.6</text><text x="41.5" y="474.59999999999997" font-size="11.3" text-anchor="end" >0.8</text><text x="66.8" y="504.2" font-size="11.3" text-anchor="middle" >0</text><text x="97.4" y="504.2" font-size="11.3" text-anchor="middle" >21</text><text x="128.0" y="504.2" font-size="11.3" text-anchor="middle" >46</text><text x="158.6" y="504.2" font-size="11.3" text-anchor="middle" >90</text><text x="189.2" y="504.2" font-size="11.3" text-anchor="middle" >123</text><text x="219.8" y="504.2" font-size="11.3" text-anchor="middle" >151</text><text x="250.4" y="504.2" font-size="11.3" text-anchor="middle" >184</text><text x="281.0" y="504.2" font-size="11.3" text-anchor="middle" >203</text><text x="311.6" y="504.2" font-size="11.3" text-anchor="middle" >224</text><text x="342.2" y="504.2" font-size="11.3" text-anchor="middle" >264</text><text x="181.3" y="523.0" font-size="12.85" text-anchor="middle" >Days of litter decomposition</text><text transform="translate(13.4,74.5) rotate(-90)" font-size="13.25" text-anchor="middle">C concentration (mg g<tspan font-size="7.8" dy="-6.5">-1</tspan><tspan dy="6.5">)</tspan></text><text transform="translate(18.4,240.2) rotate(-90)" font-size="13.25" text-anchor="middle">N concentration (mg g<tspan font-size="7.8" dy="-6.5">-1</tspan><tspan dy="6.5">)</tspan></text><text transform="translate(15.9,407.3) rotate(-90)" font-size="13.25" text-anchor="middle">P concentration (mg g<tspan font-size="7.8" dy="-6.5">-1</tspan><tspan dy="6.5">)</tspan></text>
<path d="M65.5 10.0H76.9M83.7 10.0H94.8" stroke="#4caf50" stroke-width="1.0"/><rect x="77.3" y="7.0" width="5.9" height="5.9" fill="none" stroke="#4caf50" stroke-width="1.0"/><text x="98.0" y="14.6" font-size="13" text-anchor="start" >Green litter</text><path d="M65.5 26.3H76.7M83.9 26.3H94.8" stroke="#3b3bf5" stroke-width="1.0"/><path d="M80.3 22.3L84.3 29.3L76.3 29.3Z" fill="none" stroke="#3b3bf5" stroke-width="1.0"/><text x="98.0" y="30.9" font-size="13" text-anchor="start" >Semi-green litter</text><path d="M65.5 42.6H76.4M84.2 42.6H94.8" stroke="#1a1a1a" stroke-width="1.0"/><circle cx="80.3" cy="42.6" r="3.5" fill="none" stroke="#1a1a1a" stroke-width="1.0"/><text x="98.0" y="47.2" font-size="13" text-anchor="start" >Withered litter</text><path d="M65.5 58.9H76.4M84.2 58.9H94.8" stroke="#ff2a2a" stroke-width="1.0"/><circle cx="80.3" cy="58.9" r="3.5" fill="none" stroke="#ff2a2a" stroke-width="1.0"/><text x="98.0" y="63.50000000000001" font-size="13" text-anchor="start" >Mixed litter</text>
</svg>
</body></html>
